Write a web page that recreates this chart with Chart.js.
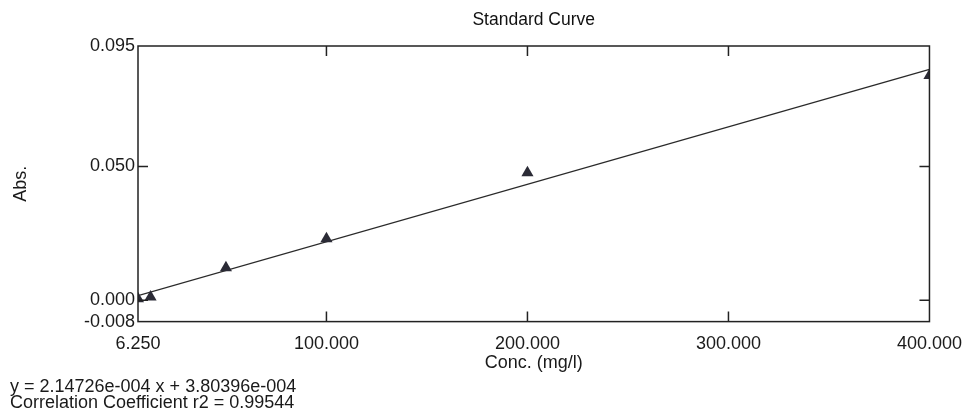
<!DOCTYPE html>
<html>
<head>
<meta charset="utf-8">
<title>Standard Curve</title>
<script src="https://cdn.jsdelivr.net/npm/chart.js@4.4.1/dist/chart.umd.min.js"></script>
<style>
  html, body { margin: 0; padding: 0; background: #fff; }
  #wrap { width: 965px; height: 417px; position: relative; }
</style>
</head>
<body>
<div id="wrap"><canvas id="mycanvas"></canvas></div>
<script>
var conc = [6.25, 12.5, 50, 100, 200, 400];
var absorb = [0.0005, 0.0012, 0.0121, 0.0230, 0.0476, 0.0840];

// fitted line end points
var fitX = [6.25, 400];
var fitY = [0.0017, 0.0863];

var xTicks = [6.25, 100, 200, 300, 400];
var yTicks = [-0.008, 0.000, 0.050, 0.095];

var equationText = [
	'y = 2.14726e-004 x + 3.80396e-004',
	'Correlation Coefficient r2 = 0.99544'
];

var ink = '#222';
var fontFam = '"Liberation Sans", Arial, Helvetica, sans-serif';

function toPoints(xs, ys) {
	var out = [];
	for (var i in xs) {
		out.push({x: xs[i], y: ys[i]});
	}
	return out;
}

// box round the plot with short inward tick marks
var framePlugin = {
	id: 'frame',
	afterDatasetsDraw: function(chart) {
		var ctx = chart.ctx;
		var a = chart.chartArea;
		var xs = chart.scales.x, ys = chart.scales.y;
		var len = 10;
		ctx.save();
		ctx.strokeStyle = ink;
		ctx.lineWidth = 1.5;
		ctx.strokeRect(a.left, a.top, a.right - a.left, a.bottom - a.top);
		ctx.beginPath();
		xs.ticks.forEach(function(t) {
			if (t.value <= xs.min || t.value >= xs.max) return;
			var px = xs.getPixelForValue(t.value);
			ctx.moveTo(px, a.bottom); ctx.lineTo(px, a.bottom - len);
			ctx.moveTo(px, a.top); ctx.lineTo(px, a.top + len);
		});
		ys.ticks.forEach(function(t) {
			if (t.value <= ys.min || t.value >= ys.max) return;
			var py = ys.getPixelForValue(t.value);
			ctx.moveTo(a.left, py); ctx.lineTo(a.left + len, py);
			ctx.moveTo(a.right, py); ctx.lineTo(a.right - len, py);
		});
		ctx.stroke();
		ctx.restore();
	}
};

var chartdata = {
	datasets: [
		{
			type: 'scatter',
			label: 'Standards',
			data: toPoints(conc, absorb),
			pointStyle: 'triangle',
			pointRadius: 7,
			pointBackgroundColor: '#2b2b36',
			pointBorderColor: '#2b2b36',
			pointBorderWidth: 0,
			clip: 0,
			order: 1
		},
		{
			type: 'line',
			label: 'Fit',
			data: toPoints(fitX, fitY),
			borderColor: '#2a2a2a',
			borderWidth: 1.3,
			pointRadius: 0,
			fill: false,
			clip: 0,
			order: 2
		}
	]
};

var ctx = document.getElementById('mycanvas');

var curve = new Chart(ctx, {
	data: chartdata,
	options: {
		responsive: true,
		maintainAspectRatio: false,
		animation: false,
		layout: { padding: { top: 0, left: 10, right: 27, bottom: 6 } },
		plugins: {
			legend: { display: false },
			tooltip: { enabled: false },
			title: {
				display: true,
				text: 'Standard Curve',
				fullSize: false,
				color: '#111',
				font: { family: fontFam, size: 17.5, weight: 'normal' },
				padding: { top: 10, bottom: 15 }
			},
			subtitle: {
				display: true,
				position: 'bottom',
				align: 'start',
				text: equationText,
				color: '#1a1a1a',
				font: { family: fontFam, size: 18, weight: 'normal', lineHeight: 0.9 },
				padding: 0
			}
		},
		scales: {
			x: {
				type: 'linear',
				min: 6.25,
				max: 400,
				// tick marks are drawn by the frame plugin; tickLength only spaces the labels
				grid: { display: false, drawTicks: true, tickLength: 9 },
				border: { display: false },
				afterBuildTicks: function(scale) {
					scale.ticks = xTicks.map(function(v) { return {value: v}; });
				},
				afterFit: function(scale) { scale.height = 57; },
				ticks: {
					autoSkip: false,
					maxRotation: 0,
					padding: 3,
					color: '#1a1a1a',
					font: { family: fontFam, size: 18 },
					callback: function(v) { return Number(v).toFixed(3); }
				},
				title: {
					display: true,
					text: 'Conc. (mg/l)',
					color: '#1a1a1a',
					font: { family: fontFam, size: 18 },
					padding: { top: 0, bottom: 5 }
				}
			},
			y: {
				type: 'linear',
				min: -0.008,
				max: 0.095,
				grid: { display: false, drawTicks: false },
				border: { display: false },
				afterBuildTicks: function(scale) {
					scale.ticks = yTicks.map(function(v) { return {value: v}; });
				},
				afterFit: function(scale) { scale.width = 128; },
				ticks: {
					autoSkip: false,
					padding: 3,
					color: '#1a1a1a',
					font: { family: fontFam, size: 18 },
					callback: function(v) { return Number(v).toFixed(3); }
				},
				title: {
					display: true,
					text: 'Abs.',
					color: '#1a1a1a',
					font: { family: fontFam, size: 18 },
					padding: { top: 0, bottom: 0 }
				}
			}
		}
	},
	plugins: [framePlugin]
});
</script>
</body>
</html>
